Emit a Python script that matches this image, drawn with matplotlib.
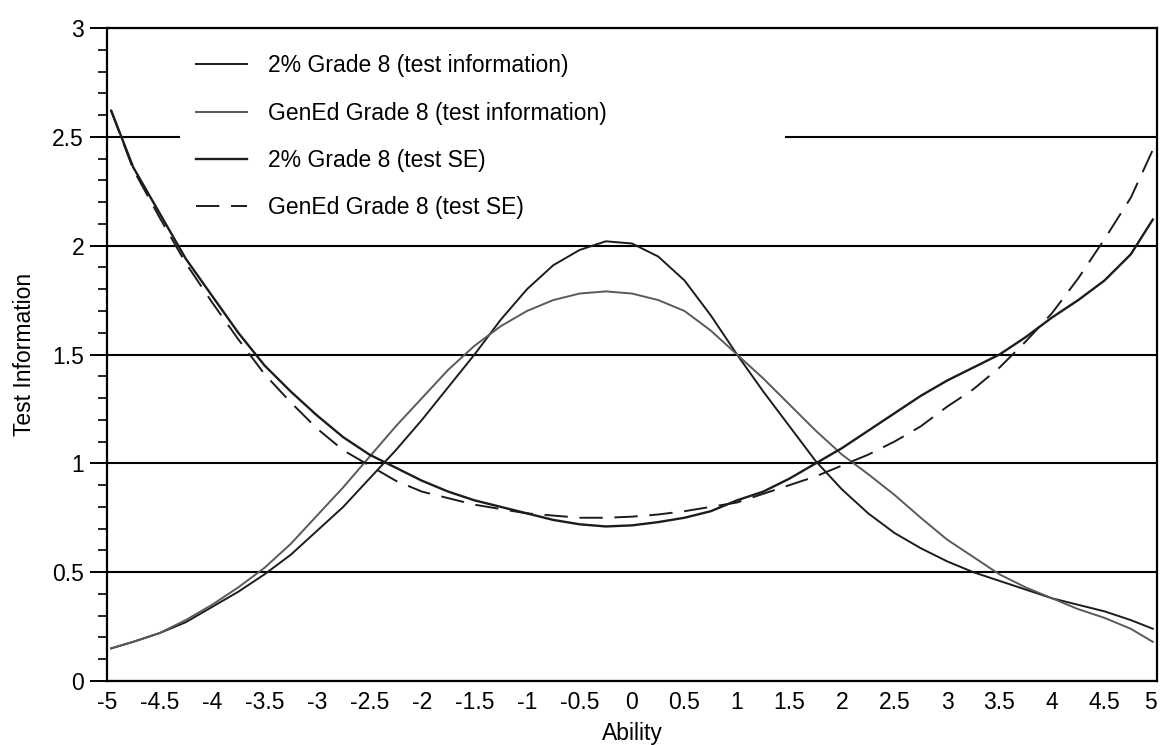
import matplotlib
matplotlib.use("Agg")
import matplotlib.pyplot as plt
from matplotlib.ticker import MultipleLocator, FixedLocator

plt.rcParams['font.family'] = ['Liberation Sans', 'DejaVu Sans']

ability = [-4.96, -4.75, -4.5, -4.25, -4.0, -3.75, -3.5, -3.25, -3.0, -2.75, -2.5, -2.25,
           -2.0, -1.75, -1.5, -1.25, -1.0, -0.75, -0.5, -0.25, 0.0, 0.25, 0.5, 0.75,
           1.0, 1.25, 1.5, 1.75, 2.0, 2.25, 2.5, 2.75, 3.0, 3.25, 3.5, 3.75,
           4.0, 4.25, 4.5, 4.75, 4.96]

info_2pct = [0.15, 0.18, 0.22, 0.27, 0.34, 0.41, 0.49, 0.58, 0.69, 0.80, 0.93, 1.06,
             1.20, 1.35, 1.50, 1.66, 1.80, 1.91, 1.98, 2.02, 2.01, 1.95, 1.84, 1.68,
             1.50, 1.33, 1.17, 1.01, 0.88, 0.77, 0.68, 0.61, 0.55, 0.50, 0.46, 0.42,
             0.38, 0.35, 0.32, 0.28, 0.24]

info_gened = [0.15, 0.18, 0.22, 0.28, 0.35, 0.43, 0.52, 0.63, 0.76, 0.89, 1.03, 1.17,
              1.30, 1.43, 1.54, 1.63, 1.70, 1.75, 1.78, 1.79, 1.78, 1.75, 1.70, 1.61,
              1.50, 1.39, 1.27, 1.15, 1.04, 0.95, 0.855, 0.75, 0.65, 0.57, 0.49, 0.43,
              0.38, 0.33, 0.29, 0.24, 0.18]

se_2pct = [2.62, 2.36, 2.15, 1.94, 1.77, 1.60, 1.45, 1.33, 1.22, 1.12, 1.04, 0.98,
           0.92, 0.87, 0.83, 0.80, 0.77, 0.74, 0.72, 0.71, 0.715, 0.73, 0.75, 0.78,
           0.83, 0.87, 0.93, 1.00, 1.07, 1.15, 1.23, 1.31, 1.38, 1.44, 1.50, 1.58,
           1.67, 1.75, 1.84, 1.96, 2.12]

se_gened = [2.62, 2.35, 2.13, 1.92, 1.74, 1.57, 1.41, 1.28, 1.16, 1.06, 0.99, 0.92,
            0.87, 0.84, 0.81, 0.79, 0.77, 0.76, 0.75, 0.75, 0.755, 0.765, 0.78, 0.80,
            0.82, 0.86, 0.90, 0.94, 0.99, 1.04, 1.10, 1.17, 1.26, 1.34, 1.44, 1.56,
            1.69, 1.85, 2.03, 2.22, 2.44]

labels = ["2% Grade 8 (test information)",
          "GenEd Grade 8 (test information)",
          "2% Grade 8 (test SE)",
          "GenEd Grade 8 (test SE)"]

xticks = [-5, -4.5, -4, -3.5, -3, -2.5, -2, -1.5, -1, -0.5, 0, 0.5, 1, 1.5, 2, 2.5, 3, 3.5, 4, 4.5, 5]
xticklabels = ["-5", "-4.5", "-4", "-3.5", "-3", "-2.5", "-2", "-1.5", "-1", "-0.5", "0",
               "0.5", "1", "1.5", "2", "2.5", "3", "3.5", "4", "4.5", "5"]
yticks = [0, 0.5, 1, 1.5, 2, 2.5, 3]
yticklabels = ["0", "0.5", "1", "1.5", "2", "2.5", "3"]

dark = "#1c1c1c"
grey = "#5a5a5a"
fs = 16.5

fig = plt.figure(figsize=(11.6, 7.45), dpi=100)
ax = fig.add_axes([107/1160, 1 - 681/745, 1050/1160, 653/745])

ax.plot(ability, info_2pct, color=dark, lw=1.4, label=labels[0], zorder=3)
ax.plot(ability, info_gened, color=grey, lw=1.4, label=labels[1], zorder=3)
ax.plot(ability, se_2pct, color=dark, lw=1.7, label=labels[2], zorder=3)
l4, = ax.plot(ability, se_gened, color=dark, lw=1.4, label=labels[3], zorder=3)
l4.set_dashes([12, 6])

ax.set_xlim(-5, 5)
ax.set_ylim(0, 3)
ax.xaxis.set_major_locator(FixedLocator(xticks))
ax.set_xticklabels(xticklabels)
ax.yaxis.set_major_locator(FixedLocator(yticks))
ax.set_yticklabels(yticklabels)
ax.yaxis.set_minor_locator(MultipleLocator(0.1))

ax.tick_params(axis='x', length=0, pad=7, labelsize=fs)
ax.tick_params(axis='y', which='major', length=12.5, width=1.4, pad=4, labelsize=fs, direction='out')
ax.tick_params(axis='y', which='minor', length=6.5, width=1.2, direction='out')

# keep the last x label inside the figure, as in the reference
xl = ax.get_xticklabels()
xl[-1].set_horizontalalignment('right')
xl[-1].set_x(5)

ax.yaxis.grid(True, which='major', color='black', lw=1.5, zorder=1)
ax.set_axisbelow(True)
for s in ax.spines.values():
    s.set_linewidth(1.6)
    s.set_color('black')

ax.set_xlabel("Ability", fontsize=fs, labelpad=6)
ax.set_ylabel("Test Information", fontsize=fs, labelpad=12)

leg = ax.legend(loc='upper left', bbox_to_anchor=(0.0695, 0.0, 0.576, 0.985),
                mode='expand', borderaxespad=0, frameon=True, fontsize=fs,
                handlelength=2.2, handletextpad=0.9, labelspacing=1.06, borderpad=0.72)
leg.get_frame().set_facecolor('white')
leg.get_frame().set_edgecolor('white')
leg.get_frame().set_alpha(1)
leg.get_frame().set_linewidth(0)

fig.savefig("out.png", dpi=100)
